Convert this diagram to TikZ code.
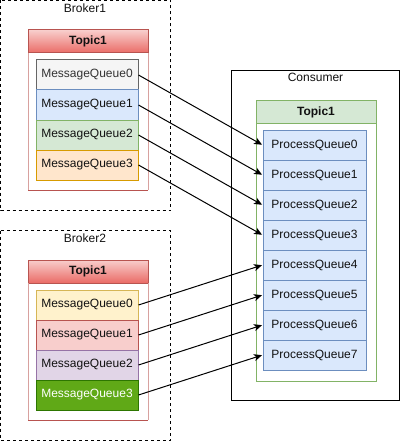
\documentclass[tikz,border=0pt]{standalone}
\usepackage{fontspec}
\setmainfont{Liberation Sans}
\usetikzlibrary{arrows.meta}
\definecolor{greyF}{HTML}{F5F5F5}\definecolor{greyD}{HTML}{666666}\definecolor{greyT}{HTML}{333333}
\definecolor{blueF}{HTML}{DAE8FC}\definecolor{blueD}{HTML}{6C8EBF}
\definecolor{grnF}{HTML}{D5E8D4}\definecolor{grnD}{HTML}{82B366}
\definecolor{orF}{HTML}{FFE6CC}\definecolor{orD}{HTML}{D79B00}
\definecolor{yelF}{HTML}{FFF2CC}\definecolor{yelD}{HTML}{D6B656}
\definecolor{redF}{HTML}{F8CECC}\definecolor{redD}{HTML}{B85450}\definecolor{redG}{HTML}{EA6B66}
\definecolor{purF}{HTML}{E1D5E7}\definecolor{purD}{HTML}{9673A6}
\definecolor{dgF}{HTML}{60A917}\definecolor{dgD}{HTML}{2D7600}
\definecolor{txt}{HTML}{111111}
\tikzset{
  qbox/.style={draw, line width=1pt, minimum width=102pt, minimum height=30pt, inner sep=0pt, text=txt},
  pbox/.style={draw=blueD, fill=blueF, line width=1pt, minimum width=103pt, minimum height=30pt, inner sep=0pt, text=txt},
  lbl/.style={inner sep=0pt, text=txt},
  hdr/.style={inner sep=0pt, text=txt, font=\fontsize{12}{14}\selectfont\bfseries},
  brk/.style={draw=black, line width=1pt, dash pattern=on 3pt off 3pt},
  arr/.style={draw=black, line width=1pt, -{Stealth[length=8pt,width=7pt,inset=2pt]}, shorten >=0.5pt},
}
\begin{document}
\begin{tikzpicture}[x=1pt,y=-1pt,font=\fontsize{12}{14}\selectfont]
\useasboundingbox (0,0) rectangle (401,441);
% Broker1
\draw[brk] (0.5,0.5) rectangle (170.5,210.5);
\node[lbl] (b1) at (85,8) {Broker1};
\shade[top color=redF, bottom color=redG] (28,30) rectangle (148,53);
\draw[redD, line width=1pt] (28,30) rectangle (148,53);
\draw[redD!55, line width=1pt] (28,53) -- (28,190) (148,190) -- (148,53);
\draw[redD, line width=1pt] (28,190) -- (148,190);
\node[hdr] (t1) at (88,41.5) {Topic1};
\node[qbox, fill=greyF, draw=greyD, text=greyT] (m10) at (87,75) {MessageQueue0};
\node[qbox, fill=blueF, draw=blueD] (m11) at (87,105) {MessageQueue1};
\node[qbox, fill=grnF, draw=grnD] (m12) at (87,135) {MessageQueue2};
\node[qbox, fill=orF, draw=orD] (m13) at (87,165) {MessageQueue3};
% Broker2
\draw[brk] (0.5,230.5) rectangle (170.5,440);
\node[lbl] (b2) at (85,238) {Broker2};
\shade[top color=redF, bottom color=redG] (28,260) rectangle (148,283);
\draw[redD, line width=1pt] (28,260) rectangle (148,283);
\draw[redD!55, line width=1pt] (28,283) -- (28,420) (148,420) -- (148,283);
\draw[redD, line width=1pt] (28,420) -- (148,420);
\node[hdr] (t2) at (88,271.5) {Topic1};
\node[qbox, fill=yelF, draw=yelD] (m20) at (87,305) {MessageQueue0};
\node[qbox, fill=redF, draw=redD] (m21) at (87,335) {MessageQueue1};
\node[qbox, fill=purF, draw=purD] (m22) at (87,365) {MessageQueue2};
\node[qbox, fill=dgF, draw=dgD, text=white] (m23) at (87,395) {MessageQueue3};
% Consumer
\draw[black, line width=1pt] (231,70.5) rectangle (399.5,400);
\node[lbl] (c) at (315.5,77) {Consumer};
\fill[grnF] (256,101) rectangle (376,123);
\draw[grnD, line width=1pt] (256,101) rectangle (376,123);
\draw[grnD, line width=1pt] (256,123) -- (256,381) -- (376,381) -- (376,123);
\node[hdr] (t3) at (316,112) {Topic1};
\foreach \i in {0,...,7}{
  \node[pbox] (p\i) at (314.5,145+30*\i) {ProcessQueue\i};
}
% connectors
\draw[arr] (m10.east) -- (p0.west);
\draw[arr] (m11.east) -- (p1.west);
\draw[arr] (m12.east) -- (p2.west);
\draw[arr] (m13.east) -- (p3.west);
\draw[arr] (m20.east) -- (p4.west);
\draw[arr] (m21.east) -- (p5.west);
\draw[arr] (m22.east) -- (p6.west);
\draw[arr] (m23.east) -- (p7.west);
\end{tikzpicture}
\end{document}
